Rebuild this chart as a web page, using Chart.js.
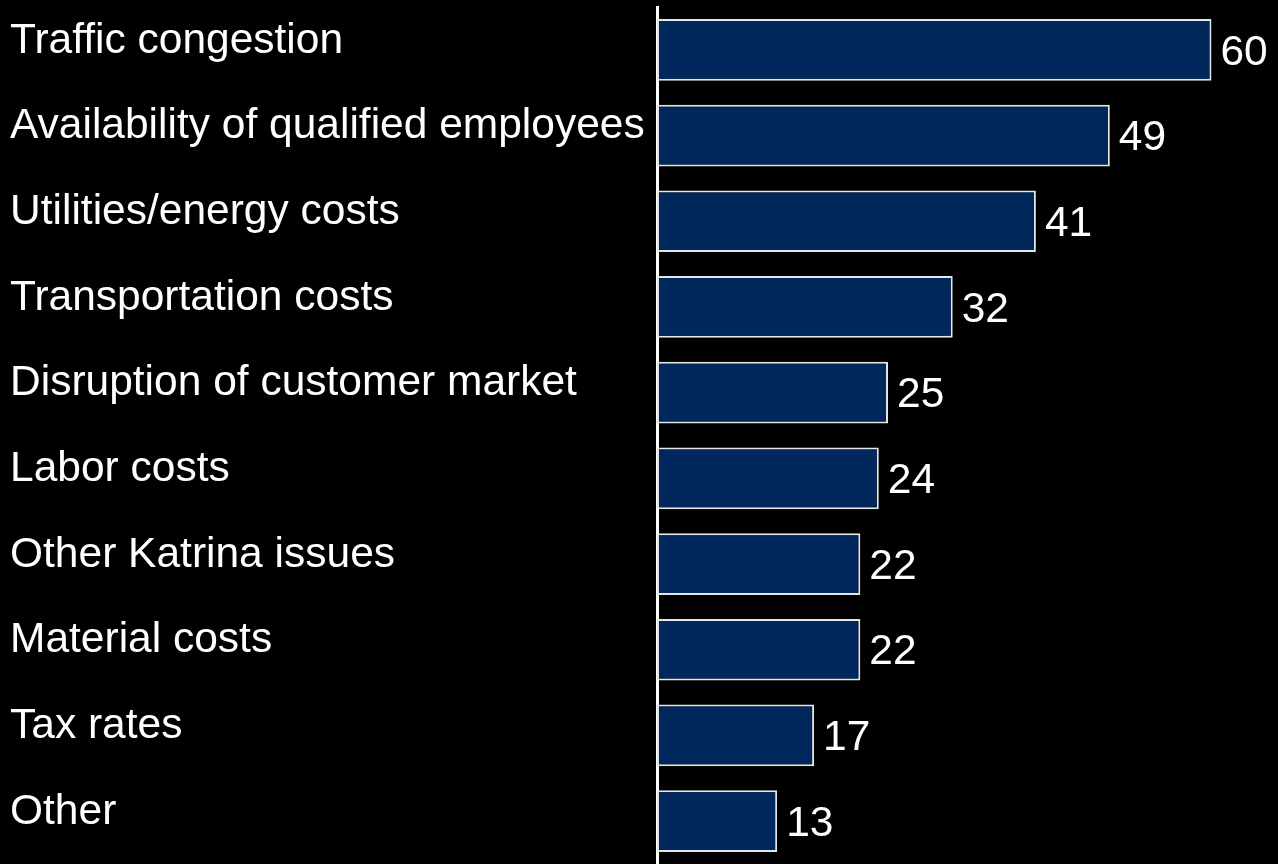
<!DOCTYPE html>
<html>
<head>
<meta charset="utf-8">
<script src="https://cdn.jsdelivr.net/npm/chart.js@4"></script>
<style>
  html, body { margin: 0; padding: 0; background: #000; }
  #wrap { width: 1278px; height: 864px; }
</style>
</head>
<body>
<div id="wrap"><canvas id="chart"></canvas></div>
<script>
const categories = [
    'Traffic congestion',
    'Availability of qualified employees',
    'Utilities/energy costs',
    'Transportation costs',
    'Disruption of customer market',
    'Labor costs',
    'Other Katrina issues',
    'Material costs',
    'Tax rates',
    'Other'
];
const values = [60, 49, 41, 32, 25, 24, 22, 22, 17, 13];

const FONT = '"Liberation Sans", Arial, sans-serif';

// Wert rechts neben jeden Balken schreiben
const valueLabels = {
    id: 'valueLabels',
    afterDatasetsDraw(chart) {
        const ctx = chart.ctx;
        const meta = chart.getDatasetMeta(0);
        ctx.save();
        ctx.fillStyle = '#fff';
        ctx.font = '42.5px ' + FONT;
        ctx.textAlign = 'left';
        ctx.textBaseline = 'middle';
        meta.data.forEach((bar, i) => {
            ctx.fillText(String(values[i]), bar.x + 9, bar.y + 3);
        });
        ctx.restore();
    }
};

new Chart(document.getElementById('chart'), {
    type: 'bar',
    data: {
        labels: categories,
        datasets: [{
            data: values,
            backgroundColor: '#00285c',
            borderColor: '#e6e6e6',
            borderWidth: 2,
            borderSkipped: false,
            barPercentage: 0.72,
            categoryPercentage: 1
        }]
    },
    options: {
        indexAxis: 'y',
        responsive: true,
        maintainAspectRatio: false,
        animation: false,
        layout: { padding: { left: 10, right: 0, top: 7, bottom: 0 } },
        plugins: {
            legend: { display: false },
            tooltip: { enabled: false }
        },
        scales: {
            x: {
                display: false,
                min: 0,
                max: 67.2
            },
            y: {
                afterFit(scale) {
                    scale.width = 647;
                    scale.paddingTop = 0;
                    scale.paddingBottom = 0;
                },
                grid: { display: false, drawTicks: false },
                border: { display: true, color: '#fff', width: 3 },
                ticks: {
                    color: '#fff',
                    font: { family: FONT, size: 42.5 },
                    crossAlign: 'far',
                    padding: 0,
                    labelOffset: -9
                }
            }
        }
    },
    plugins: [valueLabels]
});
</script>
</body>
</html>
